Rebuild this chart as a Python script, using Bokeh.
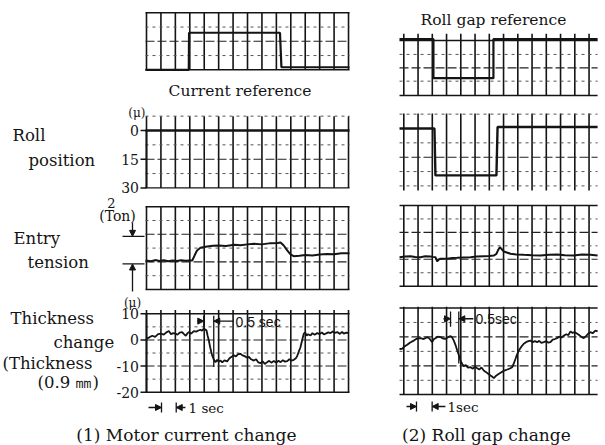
from bokeh.plotting import figure
from bokeh.layouts import row, column
from bokeh.models import Range1d, Arrow, NormalHead
from bokeh.core.properties import value
from bokeh.embed import file_html
from bokeh.resources import INLINE

SERIF = "DejaVu Serif"
SANS = "Liberation Sans"
INK = "#141414"

# ------------------------------------------------------------------ data
# time axis of the recorder: one chart division = 1 s
left_div_seconds = list(range(0, 15))
right_div_seconds = list(range(0, 14))

# (1) Motor current change
cur_ref_t = [-0.07, 2.93, 2.95, 9.25, 9.35, 14.07]
cur_ref_v = [0.0, 0.0, 2.6, 2.6, 0.18, 0.18]

roll_pos1_t = [-0.07, 14.07]
roll_pos1_v = [0.0, 0.0]          # micron

tension1_t = [-0.07, 0.3, 0.6, 0.9, 1.2, 1.5, 1.8, 2.1, 2.4, 2.7, 3.0, 3.17, 3.33, 3.5, 3.74,
              4.2, 4.6, 5.0, 5.5, 6.1, 6.5, 7.0, 7.44, 8.0, 8.6, 9.1, 9.29, 9.51, 9.75, 9.98,
              10.2, 10.6, 11.0, 11.5, 12.0, 12.5, 13.0, 13.5, 14.07]
tension1_v = [2.10, 2.05, 2.13, 2.07, 2.12, 2.05, 2.10, 2.06, 2.12, 2.08, 2.11, 2.10, 2.46, 2.83, 3.02,
              3.12, 3.17, 3.19, 3.15, 3.24, 3.21, 3.27, 3.31, 3.27, 3.36, 3.37, 3.41, 3.19, 2.83, 2.54,
              2.41, 2.45, 2.50, 2.47, 2.54, 2.58, 2.55, 2.62, 2.63]   # Ton

thick1_t = [0.0, 0.2, 0.4, 0.6, 0.8, 1.0, 1.2, 1.35, 1.55, 1.7,
            1.85, 2.0, 2.15, 2.3, 2.47, 2.6, 2.72, 2.85, 2.95, 3.1,
            3.28, 3.45, 3.6, 3.74, 3.85, 3.97, 4.08, 4.16, 4.24, 4.32,
            4.42, 4.55, 4.66, 4.78, 4.9, 5.0, 5.13, 5.25, 5.4, 5.59,
            5.75, 5.9, 6.05, 6.2, 6.35, 6.51, 6.65, 6.8, 6.98, 7.1,
            7.25, 7.44, 7.6, 7.75, 7.9, 8.05, 8.2, 8.36, 8.5, 8.65,
            8.82, 9.0, 9.15, 9.29, 9.45, 9.6, 9.75, 9.9, 10.05, 10.21,
            10.35, 10.44, 10.55, 10.67, 10.78, 10.9, 11.0, 11.1, 11.2, 11.37,
            11.5, 11.65, 11.83, 12.0, 12.15, 12.29, 12.45, 12.6, 12.75, 12.9,
            13.05, 13.22, 13.4, 13.55, 13.67, 13.85, 14.0]
thick1_v = [0.5, 1.0, 1.6, 1.2, 2.2, 2.4, 2.0, 2.8, 3.4, 2.2,
            2.6, 2.4, 2.0, 2.8, 3.0, 2.2, 1.6, 2.6, 3.0, 2.4,
            3.4, 3.2, 3.6, 3.9, 3.5, 4.3, 4.0, 3.6, 1.5, -0.2,
            -3.0, -5.9, -7.5, -8.5, -7.6, -8.3, -7.9, -8.6, -7.8, -8.2,
            -7.0, -6.4, -5.9, -6.3, -5.4, -5.3, -5.9, -6.2, -6.8, -6.5,
            -7.4, -7.9, -7.4, -8.6, -8.9, -8.2, -9.2, -8.5, -8.0, -8.7,
            -8.1, -8.6, -8.0, -8.5, -7.8, -8.3, -8.1, -7.4, -7.9, -7.6,
            -7.0, -6.2, -4.5, -2.8, -0.2, 2.4, 2.9, 1.6, 2.2, 1.7,
            2.6, 2.0, 2.6, 2.2, 2.9, 2.1, 2.5, 2.9, 2.6, 3.2,
            2.7, 3.0, 2.3, 3.1, 2.4, 2.8, 2.6]      # micron

# (2) Roll gap change
gap_ref_t = [-0.3, 2.08, 2.08, 6.29, 6.29, 13.6]
gap_ref_v = [0.0, 0.0, 25.0, 25.0, 0.0, 0.0]

roll_pos2_t = [-0.3, 2.15, 2.22, 6.5, 6.58, 13.6]
roll_pos2_v = [0.0, 0.0, 24.5, 24.5, -0.8, -0.8]

tension2_t = [-0.3, 0.1, 0.47, 0.8, 1.17, 1.5, 1.87, 2.05, 2.22, 2.34,
              2.45, 2.57, 3.04, 3.4, 3.74, 4.2, 4.68, 5.1, 5.61, 6.0,
              6.31, 6.5, 6.60, 6.74, 7.02, 7.49, 7.9, 8.42, 9.0, 9.59,
              10.2, 10.76, 11.3, 11.92, 12.5, 13.1, 13.6]
tension2_v = [2.16, 2.20, 2.23, 2.17, 2.16, 2.22, 2.21, 2.18, 2.16, 1.84,
              1.98, 2.04, 2.04, 2.09, 2.11, 2.14, 2.16, 2.20, 2.23, 2.25,
              2.28, 2.40, 2.65, 2.90, 2.58, 2.41, 2.36, 2.33, 2.30, 2.28,
              2.34, 2.36, 2.30, 2.28, 2.35, 2.33, 2.28]

thick2_t = [-0.3, -0.11, 0.05, 0.24, 0.45, 0.7, 0.9, 1.17, 1.4, 1.64,
            1.8, 1.99, 2.1, 2.22, 2.4, 2.58, 2.75, 2.93, 3.1, 3.28,
            3.4, 3.51, 3.63, 3.75, 3.87, 3.98, 4.1, 4.21, 4.35, 4.5,
            4.68, 4.85, 5.0, 5.15, 5.3, 5.45, 5.61, 5.75, 5.9, 6.08,
            6.2, 6.32, 6.45, 6.6, 6.79, 6.95, 7.1, 7.26, 7.45, 7.61,
            7.72, 7.84, 7.95, 8.07, 8.25, 8.42, 8.6, 8.75, 8.89, 9.05,
            9.2, 9.36, 9.5, 9.65, 9.82, 10.0, 10.15, 10.29, 10.45, 10.6,
            10.76, 10.9, 11.05, 11.23, 11.4, 11.55, 11.7, 11.85, 12.0, 12.17,
            12.3, 12.45, 12.63, 12.8, 12.95, 13.1, 13.25, 13.45, 13.6]
thick2_v = [-3.5, -3.4, -2.5, -1.9, -1.0, -0.3, 0.4, 0.6, 0.3, 1.0,
            0.5, -0.9, 0.2, 0.6, 1.2, 1.0, 0.5, 0.4, 1.0, 1.4,
            0.8, -0.3, -2.0, -4.1, -6.0, -7.9, -9.2, -10.0, -9.6, -10.6,
            -10.4, -11.0, -10.2, -10.8, -11.3, -10.5, -11.7, -12.2, -12.8, -13.6,
            -14.0, -14.6, -13.8, -13.2, -12.5, -12.0, -11.6, -11.3, -10.9, -10.4,
            -9.0, -7.2, -5.5, -4.1, -2.6, -1.5, -0.8, -0.5, -0.3, -0.9,
            -0.5, -0.9, -0.4, -1.2, -0.9, -0.5, -1.1, -0.9, 0.1, 0.3,
            0.6, 1.2, 0.8, 1.6, 2.1, 1.8, 3.2, 2.6, 2.9, 2.3,
            1.8, 1.2, 0.6, 1.5, 2.4, 2.9, 2.5, 3.5, 3.2]

# scale ticks and markers
roll_pos_ticks = [0, 15, 30]
thick_ticks = [10, 0, -10, -20]
ton_bar = [1.85, 3.85]              # 2 Ton scale bar
half_sec1 = [3.97, 4.66]            # 0.5 s marker, chart (1)
half_sec2 = [3.28, 3.86]            # 0.5 s marker, chart (2)
one_sec1 = [1.04, 2.06]             # 1 s marker, chart (1)
one_sec2 = [0.89, 1.99]             # 1 s marker, chart (2)

# ------------------------------------------------------------------ layout helpers
LEFT = dict(px0=146.0, spp=14.43, x0=0, x1=372)
RIGHT = dict(px0=403.3, spp=14.25, x0=372, x1=600)


class Panel:
    """One strip of recorder paper; the figure's frame fills the whole figure."""

    def __init__(self, col, fig_top, fig_bot, ymap, t_ext, v_ext):
        va, pa, vb, pb = ymap
        self.col = col
        self.va, self.pa = va, pa
        self.k = (vb - va) / (pb - pa)
        self.t_ext, self.v_ext = t_ext, v_ext
        self.fig = figure(width=col["x1"] - col["x0"], height=fig_bot - fig_top,
                          x_range=Range1d(self.tx(col["x0"]), self.tx(col["x1"])),
                          y_range=Range1d(self.vy(fig_bot), self.vy(fig_top)),
                          min_border=0, min_border_left=0, min_border_right=0,
                          min_border_top=0, min_border_bottom=0,
                          x_axis_type=None, y_axis_type=None, toolbar_location=None,
                          output_backend="svg", outline_line_color=None,
                          background_fill_color="white", border_fill_color="white")

    def tx(self, px):
        return (px - self.col["px0"]) / self.col["spp"]

    def vy(self, py):
        return self.va + (py - self.pa) * self.k


def paper(pn, xticks, solid, major, minor):
    p = pn.fig
    (t0, t1), (v0, v1) = pn.t_ext, pn.v_ext
    n = len(xticks)
    p.segment(x0=xticks, y0=[v0] * n, x1=xticks, y1=[v1] * n, line_color=INK, line_width=1.6)
    for levels, w, dash, color in ((solid, 1.4, "solid", INK),
                                   (major, 1.1, "9 3", "#222222"),
                                   (minor, 1.0, "3 4", "#555555")):
        if levels:
            m = len(levels)
            p.segment(x0=[t0] * m, y0=levels, x1=[t1] * m, y1=levels,
                      line_color=color, line_width=w, line_dash=dash)


def text(pn, px, py, s, size, font=SERIF, align="left"):
    pn.fig.text(x=[pn.tx(px)], y=[pn.vy(py)], text=[s], text_font=value(font),
                text_font_size=value(f"{size}px"), text_align=value(align),
                text_baseline=value("middle"), text_color=INK)


def seg(pn, x0, y0, x1, y1, head=False, w=1.3):
    end = NormalHead(size=6, fill_color=INK, line_color=INK, line_width=1) if head else None
    pn.fig.add_layout(Arrow(x_start=x0, y_start=y0, x_end=x1, y_end=y1, end=end,
                            line_color=INK, line_width=w))


def trace(pn, t, v, w=2.0):
    pn.fig.line(t, v, line_color=INK, line_width=w)


def scale(pn, ticks, bounds):
    p = pn.fig
    n = len(ticks)
    p.segment(x0=[0.0], y0=[bounds[0]], x1=[0.0], y1=[bounds[1]], line_color=INK, line_width=1.8)
    p.segment(x0=[pn.tx(140)] * n, y0=ticks, x1=[0.0] * n, y1=ticks, line_color=INK, line_width=1.5)
    p.text(x=[pn.tx(138.5)] * n, y=ticks, text=[str(t) for t in ticks],
           text_font=value(SERIF), text_font_size=value("14px"), text_align=value("right"),
           text_baseline=value("middle"), text_color=INK)


# ------------------------------------------------------------------ (1) Motor current change
L1 = Panel(LEFT, 0, 100, (0, 69.3, 4, 12.3), (-0.07, 14.07), (0, 4))
paper(L1, left_div_seconds, [0, 4], [2], [1, 3])
trace(L1, cur_ref_t, cur_ref_v, 2.2)
text(L1, 242, 90, "Current  reference", 15.5, align="center")

L2 = Panel(LEFT, 100, 197, (0, 130.0, 30, 187.4), (-0.07, 14.07), (-7.5, 30))
paper(L2, left_div_seconds, [30], [15], [-7.5, 7.5, 22.5])
trace(L2, roll_pos1_t, roll_pos1_v, 2.4)
scale(L2, roll_pos_ticks, (0, 30))
text(L2, 12, 135, "Roll", 16.5)
text(L2, 28, 160, "position", 16.5)
text(L2, 145, 112, "(\u03bc)", 12, align="right")

L3 = Panel(LEFT, 197, 293, (0, 289.0, 6, 206.2), (-0.07, 14.07), (0, 6))
paper(L3, left_div_seconds, [0, 6], [2, 4], [1, 3, 5])
trace(L3, tension1_t, tension1_v, 2.0)
text(L3, 13, 238, "Entry", 16.5)
text(L3, 27, 262, "tension", 16.5)
text(L3, 111, 202, "2", 13, align="center")
text(L3, 117, 215, "(Ton)", 14, align="center")
bx = L3.tx(132)
seg(L3, bx, L3.vy(222), bx, ton_bar[1], head=True)
seg(L3, bx, L3.vy(291), bx, ton_bar[0], head=True)
seg(L3, L3.tx(122), ton_bar[1], L3.tx(144), ton_bar[1])
seg(L3, L3.tx(122), ton_bar[0], L3.tx(144), ton_bar[0])

L4 = Panel(LEFT, 293, 445, (10, 313.3, -20, 391.7), (-0.07, 14.07), (-20, 11.5))
paper(L4, left_div_seconds, [10, -20], [0, -10], [5, -5, -15])
trace(L4, thick1_t, thick1_v, 1.8)
scale(L4, thick_ticks, (-20, 10))
text(L4, 132, 302, "(\u03bc)", 12, align="center")
text(L4, 10, 318, "Thickness", 16.5)
text(L4, 53, 342, "change", 16.5)
text(L4, 2, 363, "(Thickness", 16.5)
text(L4, 37, 382, "(0.9 \u339c)", 16.5)
lv = 7.2
seg(L4, half_sec1[0] - 0.46, lv, half_sec1[0], lv, head=True)
seg(L4, half_sec1[1] + 1.39, lv, half_sec1[1], lv, head=True)
seg(L4, half_sec1[0], 9.3, half_sec1[0], 4.8)
seg(L4, half_sec1[1], 9.3, half_sec1[1], -10.4)
text(L4, 235, 321, "0.5 sec", 14, font=SANS)
oy = L4.vy(407)
seg(L4, one_sec1[0] - 0.9, oy, one_sec1[0], oy, head=True)
seg(L4, one_sec1[1] + 0.64, oy, one_sec1[1], oy, head=True)
seg(L4, one_sec1[0], L4.vy(402), one_sec1[0], L4.vy(412))
seg(L4, one_sec1[1], L4.vy(402), one_sec1[1], L4.vy(412))
text(L4, 188, 407, "1 sec", 13.5)
text(L4, 194, 434, "(1)  Motor  current  change", 17, align="center")

# ------------------------------------------------------------------ (2) Roll gap change
R1 = Panel(RIGHT, 0, 104, (0, 38.6, 25, 77.7), (-0.3, 13.6), (-3.5, 36.1))
paper(R1, right_div_seconds, [0.9, 36.1], [18.4], [9.8, 26.9])
trace(R1, gap_ref_t, gap_ref_v, 2.2)
text(R1, 493, 19, "Roll gap reference", 15.5, align="center")

R2 = Panel(RIGHT, 104, 197, (0, 128.0, 30, 185.4), (-0.3, 13.6), (-7.8, 32.4))
paper(R2, right_div_seconds, [], [15], [-7.5, 7.5, 22.5, 30])
trace(R2, roll_pos2_t, roll_pos2_v, 2.4)

R3 = Panel(RIGHT, 197, 296, (0, 285.7, 6, 205.0), (-0.3, 13.6), (0, 6))
paper(R3, right_div_seconds, [0, 6], [2, 4], [1, 3, 5])
trace(R3, tension2_t, tension2_v, 2.0)

R4 = Panel(RIGHT, 296, 445, (10, 313.0, -20, 391.9), (-0.3, 13.6), (-20.8, 12.6))
paper(R4, right_div_seconds, [12.1, -20.8], [1.1, -9.9], [6.6, -4.4, -15.4])
trace(R4, thick2_t, thick2_v, 1.8)
rv = 8.0
seg(R4, half_sec2[0] - 0.5, rv, half_sec2[0], rv, head=True)
seg(R4, half_sec2[1] + 1.02, rv, half_sec2[1], rv, head=True)
seg(R4, half_sec2[0], 10.8, half_sec2[0], 5.0)
seg(R4, half_sec2[1], 10.8, half_sec2[1], -9.0)
text(R4, 475, 318, "0.5sec", 14, font=SANS)
oy2 = R4.vy(406)
seg(R4, one_sec2[0] - 0.7, oy2, one_sec2[0], oy2, head=True)
seg(R4, one_sec2[1] + 0.93, oy2, one_sec2[1], oy2, head=True)
seg(R4, one_sec2[0], R4.vy(401), one_sec2[0], R4.vy(411))
seg(R4, one_sec2[1], R4.vy(401), one_sec2[1], R4.vy(411))
text(R4, 447, 406, "1sec", 13.5)
text(R4, 494, 434, "(2)  Roll  gap  change", 17, align="center")

layout = row(column(L1.fig, L2.fig, L3.fig, L4.fig),
             column(R1.fig, R2.fig, R3.fig, R4.fig))

open("out.html", "w").write(file_html(layout, INLINE, title="Motor current / roll gap change"))
